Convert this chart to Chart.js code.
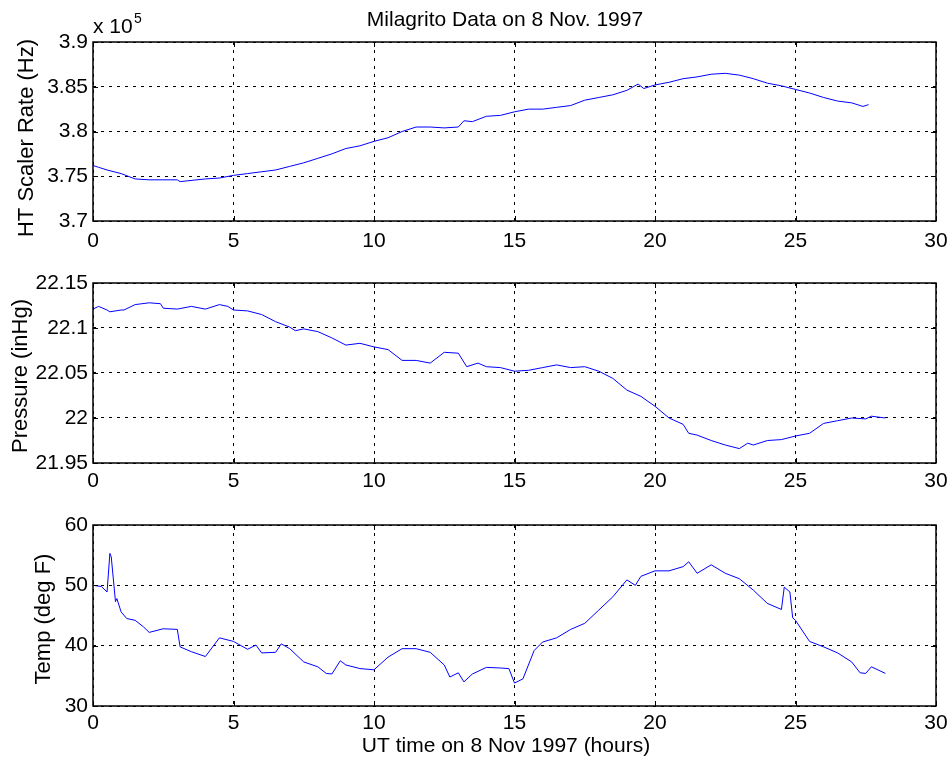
<!DOCTYPE html>
<html>
<head>
<meta charset="utf-8">
<title>Milagrito Data on 8 Nov. 1997</title>
<script src="https://cdn.jsdelivr.net/npm/chart.js@4"></script>
<style>
    body { margin: 0; background: #fff; }
    #wrap { position: relative; width: 951px; height: 757px; }
    canvas { position: absolute; left: 0; }
</style>
</head>
<body>
<div id="wrap">
    <canvas id="scalerChart" width="951" height="260" style="top:0px"></canvas>
    <canvas id="pressureChart" width="951" height="240" style="top:260px"></canvas>
    <canvas id="tempChart" width="951" height="257" style="top:500px"></canvas>
</div>
<script>
// x axis ticks (hours)
const hourTicks = [0, 5, 10, 15, 20, 25, 30];

// HT scaler rate (Hz)
const scalerHours = [0, 0.2, 0.5, 1, 1.5, 2, 3, 3.1, 4, 4.5, 5, 5.5, 6, 6.5, 7, 7.5, 8, 8.5, 9, 9.5, 10,
    10.5, 11, 11.5, 12, 12.5, 13, 13.2, 13.5, 14, 14.5, 15, 15.5, 16, 16.5, 17, 17.5, 18, 18.5, 19, 19.4,
    19.6, 20, 20.5, 21, 21.5, 22, 22.5, 23, 23.5, 24, 24.5, 25, 25.5, 26, 26.5, 27, 27.4, 27.6];
const scalerRate = [376200, 376000, 375700, 375300, 374700, 374600, 374600, 374400, 374700, 374800, 375100,
    375300, 375500, 375700, 376100, 376500, 377000, 377500, 378100, 378400, 378900,
    379300, 380000, 380500, 380500, 380400, 380500, 381200, 381100, 381700, 381800,
    382200, 382500, 382500, 382700, 382900, 383500, 383800, 384100, 384600, 385300,
    384800, 385200, 385500, 385900, 386100, 386400, 386500, 386300, 385900, 385400,
    385100, 384700, 384300, 383800, 383400, 383200, 382800, 383000];
const scalerTicks = [370000, 375000, 380000, 385000, 390000];

// pressure (inHg)
const pressureHours = [0, 0.2, 0.5, 0.6, 1, 1.1, 1.5, 2, 2.4, 2.5, 3, 3.5, 4, 4.5, 4.8, 5, 5.5, 6, 6.5, 7,
    7.2, 7.5, 8, 8.5, 9, 9.5, 10, 10.5, 11, 11.5, 12, 12.5, 13, 13.3, 13.7, 14, 14.5, 15, 15.5, 16,
    16.5, 17, 17.5, 18, 18.5, 19, 19.5, 20, 20.5, 21, 21.2, 21.5, 22, 22.5, 23, 23.3, 23.5, 24, 24.5, 25,
    25.5, 26, 26.5, 27, 27.5, 27.7, 28.2];
const pressure = [22.121, 22.124, 22.120, 22.118, 22.120, 22.120, 22.126, 22.128, 22.127, 22.122,
    22.121, 22.124, 22.121, 22.126, 22.124, 22.120, 22.119, 22.115, 22.107, 22.101,
    22.097, 22.099, 22.096, 22.089, 22.081, 22.083, 22.079, 22.076, 22.064, 22.064,
    22.061, 22.073, 22.072, 22.057, 22.061, 22.057, 22.056, 22.052, 22.053, 22.056,
    22.059, 22.056, 22.057, 22.052, 22.044, 22.031, 22.024, 22.013, 22.000, 21.993,
    21.983, 21.981, 21.975, 21.970, 21.966, 21.972, 21.970, 21.975, 21.976, 21.980,
    21.983, 21.994, 21.997, 22.000, 21.999, 22.002, 22.000];
const pressureTicks = [21.95, 22, 22.05, 22.1, 22.15];

// temperature (deg F)
const tempHours = [0, 0.3, 0.5, 0.6, 0.65, 0.8, 0.85, 1, 1.2, 1.5, 1.8, 2, 2.5, 3, 3.1, 3.5, 4, 4.5, 5, 5.5,
    5.8, 6, 6.5, 6.7, 7, 7.5, 8, 8.3, 8.5, 8.8, 9, 9.5, 10, 10.5, 11, 11.5, 12, 12.5, 12.7, 13,
    13.2, 13.5, 14, 14.5, 14.8, 15, 15.3, 15.7, 16, 16.5, 17, 17.5, 18, 18.5, 19, 19.3, 19.5, 20, 20.5, 21,
    21.2, 21.5, 22, 22.5, 23, 23.5, 24, 24.5, 24.6, 24.8, 24.9, 25, 25.5, 26, 26.5, 27, 27.3, 27.5, 27.7, 28.2];
const temp = [50.0, 49.8, 48.9, 55.3, 54.7, 47.3, 47.8, 45.6, 44.5, 44.2,
    43.1, 42.2, 42.8, 42.7, 39.8, 39.0, 38.2, 41.3, 40.7, 39.4,
    40.1, 38.8, 38.9, 40.3, 39.5, 37.3, 36.5, 35.4, 35.3, 37.5,
    36.8, 36.2, 36.0, 38.1, 39.5, 39.5, 38.9, 36.8, 34.8, 35.5,
    34.0, 35.3, 36.4, 36.3, 36.2, 33.8, 34.5, 39.2, 40.6, 41.3,
    42.7, 43.7, 45.9, 48.1, 50.9, 50.0, 51.5, 52.4, 52.4, 53.1,
    53.9, 52.0, 53.4, 52.0, 51.1, 49.2, 47.0, 46.0, 49.7, 48.9,
    44.6, 44.2, 40.7, 39.8, 38.8, 37.3, 35.5, 35.4, 36.5, 35.4];
const tempTicks = [30, 40, 50, 60];

const FONT = "'Liberation Sans', Arial, Helvetica, sans-serif";

// box around the plot, inward ticks and free text (MATLAB look)
const matlabAxes = {
    id: 'matlabAxes',
    afterDraw(chart, args, opts) {
        const ctx = chart.ctx;
        const a = chart.chartArea;
        const tl = 5;
        ctx.save();
        ctx.strokeStyle = '#000';
        ctx.lineWidth = 1;
        const xs = chart.scales.x, ys = chart.scales.y;
        ctx.beginPath();
        xs.ticks.forEach(t => {
            const px = Math.round(xs.getPixelForValue(t.value)) + 0.5;
            ctx.moveTo(px, a.bottom); ctx.lineTo(px, a.bottom - tl);
            ctx.moveTo(px, a.top); ctx.lineTo(px, a.top + tl);
        });
        ys.ticks.forEach(t => {
            const py = Math.round(ys.getPixelForValue(t.value)) + 0.5;
            ctx.moveTo(a.left, py); ctx.lineTo(a.left + tl, py);
            ctx.moveTo(a.right, py); ctx.lineTo(a.right - tl, py);
        });
        ctx.stroke();
        ctx.lineWidth = 1.5;
        ctx.strokeRect(a.left, a.top, a.right - a.left, a.bottom - a.top);

        ctx.fillStyle = '#000';
        (opts.texts || []).forEach(t => {
            ctx.save();
            ctx.font = t.size + 'px ' + FONT;
            ctx.textAlign = t.align || 'center';
            ctx.textBaseline = 'alphabetic';
            ctx.translate(t.x, t.y);
            if (t.rotate) ctx.rotate(-Math.PI / 2);
            ctx.fillText(t.text, 0, 0);
            ctx.restore();
        });
        ctx.restore();
    }
};

function makePanel(id, hours, values, yTicks, tickFmt, pad, xPad, texts) {
    const ctx = document.getElementById(id).getContext('2d');
    return new Chart(ctx, {
        type: 'line',
        data: {
            datasets: [{
                data: hours.map((h, i) => ({ x: h, y: values[i] })),
                borderColor: '#0000ff',
                borderWidth: 1,
                pointRadius: 0,
                tension: 0,
                fill: false
            }]
        },
        options: {
            responsive: false,
            animation: false,
            events: [],
            layout: { padding: pad },
            plugins: {
                legend: { display: false },
                title: { display: false },
                tooltip: { enabled: false },
                matlabAxes: { texts: texts }
            },
            scales: {
                x: {
                    type: 'linear',
                    min: hourTicks[0],
                    max: hourTicks[hourTicks.length - 1],
                    afterBuildTicks: s => { s.ticks = hourTicks.map(v => ({ value: v })); },
                    // fixed height, and keep the edge labels from shrinking the plot
                    afterFit: s => { s.height = 36; s.paddingLeft = 0; s.paddingRight = 0; },
                    ticks: { color: '#000', font: { family: FONT, size: 21 }, padding: xPad, maxRotation: 0, autoSkip: false },
                    grid: { color: '#000', lineWidth: 1, drawTicks: false },
                    border: { display: false, dash: [3, 5] }
                },
                y: {
                    type: 'linear',
                    min: yTicks[0],
                    max: yTicks[yTicks.length - 1],
                    afterBuildTicks: s => { s.ticks = yTicks.map(v => ({ value: v })); },
                    afterFit: s => { s.width = 93; s.paddingTop = 0; s.paddingBottom = 0; },
                    ticks: {
                        color: '#000',
                        font: { family: FONT, size: 21 },
                        padding: 5,
                        autoSkip: false,
                        callback: tickFmt
                    },
                    grid: { color: '#000', lineWidth: 1, drawTicks: false },
                    border: { display: false, dash: [3, 5] }
                }
            }
        },
        plugins: [matlabAxes]
    });
}

const plain = v => String(Math.round(v * 1000) / 1000);

makePanel('scalerChart', scalerHours, scalerRate, scalerTicks,
    v => String(Math.round(v / 100) / 1000),
    { left: 0, right: 15, top: 42, bottom: 3 }, 8,
    [
        { text: 'Milagrito Data on 8 Nov. 1997', x: 505, y: 26, size: 21 },
        { text: 'x 10', x: 93, y: 33, size: 21, align: 'left' },
        { text: '5', x: 134, y: 23, size: 14, align: 'left' },
        { text: 'HT Scaler Rate (Hz)', x: 33, y: 138, size: 22, rotate: true }
    ]);

makePanel('pressureChart', pressureHours, pressure, pressureTicks, plain,
    { left: 0, right: 15, top: 23, bottom: 1 }, 6,
    [
        { text: 'Pressure (inHg)', x: 27, y: 116, size: 22, rotate: true }
    ]);

makePanel('tempChart', tempHours, temp, tempTicks, plain,
    { left: 0, right: 15, top: 25, bottom: 15 }, 5,
    [
        { text: 'Temp (deg F)', x: 50, y: 119, size: 22, rotate: true },
        { text: 'UT time on 8 Nov 1997 (hours)', x: 506, y: 252, size: 21 }
    ]);
</script>
</body>
</html>
